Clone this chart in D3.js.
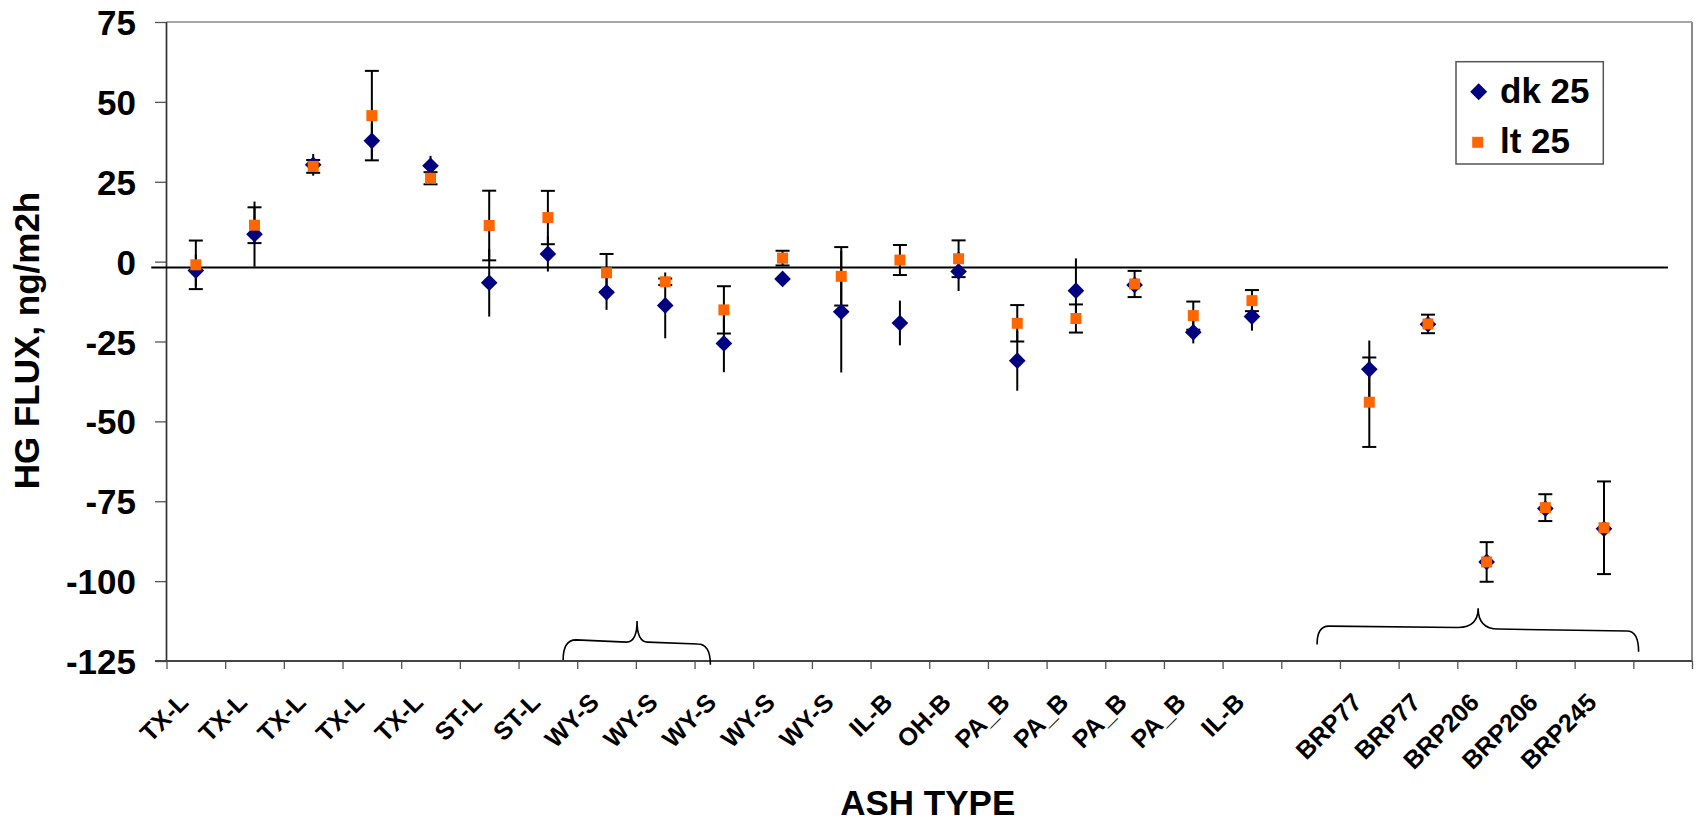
<!DOCTYPE html>
<html><head><meta charset="utf-8">
<script src="https://cdn.jsdelivr.net/npm/d3@7"></script>
<style>
html,body{margin:0;padding:0;background:#fff;}
svg{display:block;}
text{font-family:"Liberation Sans",Arial,Helvetica,sans-serif;font-weight:bold;fill:#000;}
</style></head><body>
<svg id="chart" width="1698" height="822"></svg>
<script>
// ---- data ----
const categories = ["TX-L","TX-L","TX-L","TX-L","TX-L","ST-L","ST-L","WY-S","WY-S","WY-S","WY-S","WY-S","IL-B","OH-B","PA_B","PA_B","PA_B","PA_B","IL-B","","BRP77","BRP77","BRP206","BRP206","BRP245",""];
const dkValues = [-2.8, 8.6, 30.3, 37.8, 30.0, -6.6, 2.4, -9.6, -13.7, -25.6, -5.4, -15.7, -19.2, -3.1, -31.0, -9.1, -7.3, -22.1, -17.2, null, -33.7, -19.6, -94.0, -77.3, -83.6, null];
const dkErrors = [5, 10.2, 3.4, 5.5, 3.1, 10.6, 5.5, 5.5, 10.3, 9.0, 1.5, 19.0, 7.0, 6.1, 9.4, 10.1, 2.0, 3.5, 4.4, null, 9.0, 2.0, 2.0, 2.0, 2.0, null];
const ltValues = [-1.0, 11.4, 29.8, 45.7, 26.1, 11.3, 13.8, -3.5, -6.3, -15.1, 1.1, -4.6, 0.5, 0.9, -19.3, -17.8, -7.0, -16.9, -12.2, null, -44.0, -19.5, -94.0, -77.0, -83.3, null];
const ltErrors = [7.6, 5.6, 2.0, 14.0, 1.9, 10.9, 8.35, 5.9, 1.0, 7.4, 2.3, 9.15, 4.7, 5.75, 5.7, 4.4, 4.1, 4.4, 3.3, null, 14.0, 2.9, 6.2, 4.2, 14.5, null];
const yTicks = [75, 50, 25, 0, -25, -50, -75, -100, -125];
const yTickLabels = ["75", "50", "25", "0", "-25", "-50", "-75", "-100", "-125"];
const seriesNames = ["dk 25", "lt 25"];
const yTitle = "HG FLUX, ng/m2h";
const xTitle = "ASH TYPE";
// horizontal reference line (value) drawn across the plot, in category-index units
const refLine = {value: -1.8, from: -0.26, to: 25.59};
// curly braces under the groups (category-index units / value units)
const braces = [
  {x0: 6.76, xm: 8.02, x1: 9.27, r: 0.22, r2: 0.18, e0: -124.7, f0: -118.4, fm0: -119.1, p: -112.5, fm1: -119.1, f1: -119.7, e1: -126.2},
  {x0: 19.61, xm: 22.355, x1: 25.09, r: 0.2, r2: 0.34, e0: -119.8, f0: -114.1, fm0: -114.5, p: -108.5, fm1: -115.0, f1: -115.6, e1: -122.1}
];

(function () {
// ---- layout ----
const pLeft = 166.5, pRight = 1692, pTop = 22, pBottom = 661;
const svg = d3.select("#chart");
const x = d3.scaleBand().domain(d3.range(categories.length)).range([pLeft, pRight]).padding(0);
const xi = d3.scaleLinear().domain([0, categories.length]).range([pLeft, pRight]);
const y = d3.scaleLinear().domain([-125, 75]).range([pBottom, pTop]);
const cx = i => x(i) + x.bandwidth() / 2;

// borders
svg.append("line").attr("x1", pLeft).attr("x2", pRight).attr("y1", pTop).attr("y2", pTop)
  .attr("stroke", "#8a8a8a").attr("stroke-width", 1.5);
svg.append("line").attr("x1", pRight).attr("x2", pRight).attr("y1", pTop).attr("y2", pBottom)
  .attr("stroke", "#8a8a8a").attr("stroke-width", 2);

// y axis
const yAxis = svg.append("g").attr("transform", `translate(${pLeft},0)`)
  .call(d3.axisLeft(y).tickValues(yTicks).tickSize(11.5).tickPadding(19)
    .tickFormat((d, i) => yTickLabels[i]));
yAxis.select(".domain").remove();
yAxis.selectAll(".tick line").attr("stroke", "#555").attr("stroke-width", 1.3);
yAxis.selectAll(".tick text").attr("font-size", 35).attr("dy", "0.36em")
  .style("font-family", "'Liberation Sans',Arial,sans-serif").style("font-weight", "bold");
svg.append("line").attr("x1", pLeft).attr("x2", pLeft).attr("y1", pTop).attr("y2", pBottom)
  .attr("stroke", "#333").attr("stroke-width", 1.7);

// x axis: boundary ticks
const xTickAxis = svg.append("g").attr("transform", `translate(0,${pBottom})`)
  .call(d3.axisBottom(xi).tickValues(d3.range(categories.length + 1)).tickSize(8).tickFormat(""));
xTickAxis.select(".domain").remove();
xTickAxis.selectAll(".tick line").attr("stroke", "#555").attr("stroke-width", 1.3);
// x axis: labels
const xLab = svg.append("g").attr("transform", `translate(0,${pBottom})`)
  .call(d3.axisBottom(x).tickSize(0).tickFormat(i => categories[i]));
xLab.select(".domain").remove();
xLab.selectAll(".tick text").attr("y", null).attr("dy", null)
  .attr("transform", "translate(-6,43) rotate(-45)")
  .style("text-anchor", "end").attr("font-size", 25)
  .style("font-family", "'Liberation Sans',Arial,sans-serif").style("font-weight", "bold");
svg.append("line").attr("x1", pLeft - 11.5).attr("x2", pRight).attr("y1", pBottom).attr("y2", pBottom)
  .attr("stroke", "#444").attr("stroke-width", 2);

// reference line
svg.append("line").attr("x1", xi(refLine.from)).attr("x2", xi(refLine.to))
  .attr("y1", y(refLine.value)).attr("y2", y(refLine.value))
  .attr("stroke", "#000").attr("stroke-width", 2);

// braces
function bracePath(b) {
  const p = d3.path();
  p.moveTo(xi(b.x0), y(b.e0));
  p.quadraticCurveTo(xi(b.x0), y(b.f0), xi(b.x0 + b.r), y(b.f0));
  p.lineTo(xi(b.xm - b.r2), y(b.fm0));
  p.quadraticCurveTo(xi(b.xm), y(b.fm0), xi(b.xm), y(b.p));
  p.quadraticCurveTo(xi(b.xm), y(b.fm1), xi(b.xm + b.r2), y(b.fm1));
  p.lineTo(xi(b.x1 - b.r), y(b.f1));
  p.quadraticCurveTo(xi(b.x1), y(b.f1), xi(b.x1), y(b.e1));
  return p.toString();
}
svg.append("g").selectAll("path").data(braces).join("path")
  .attr("d", bracePath).attr("fill", "none").attr("stroke", "#000").attr("stroke-width", 1.6);

// series records
const dkData = dkValues.map((v, i) => ({i, v, e: dkErrors[i]})).filter(d => d.v !== null);
const ltData = ltValues.map((v, i) => ({i, v, e: ltErrors[i]})).filter(d => d.v !== null);

// error bars (dk: no caps, lt: caps)
const bars = svg.append("g").attr("stroke", "#000").attr("stroke-width", 2);
bars.selectAll("line.dk").data(dkData.filter(d => d.e)).join("line").attr("class", "dk")
  .attr("x1", d => cx(d.i)).attr("x2", d => cx(d.i))
  .attr("y1", d => y(d.v + d.e)).attr("y2", d => y(d.v - d.e));
const ltBars = bars.selectAll("g.lt").data(ltData.filter(d => d.e)).join("g").attr("class", "lt");
ltBars.append("line").attr("x1", d => cx(d.i)).attr("x2", d => cx(d.i))
  .attr("y1", d => y(d.v + d.e)).attr("y2", d => y(d.v - d.e));
ltBars.append("line").attr("x1", d => cx(d.i) - 7).attr("x2", d => cx(d.i) + 7)
  .attr("y1", d => y(d.v + d.e)).attr("y2", d => y(d.v + d.e));
ltBars.append("line").attr("x1", d => cx(d.i) - 7).attr("x2", d => cx(d.i) + 7)
  .attr("y1", d => y(d.v - d.e)).attr("y2", d => y(d.v - d.e));

// markers
const diamond = d3.symbol(d3.symbolSquare, 139);
const square = d3.symbol(d3.symbolSquare, 121);
svg.append("g").selectAll("path").data(dkData).join("path")
  .attr("d", diamond).attr("fill", "#000080")
  .attr("transform", d => `translate(${cx(d.i)},${y(d.v)}) rotate(45)`);
svg.append("g").selectAll("path").data(ltData).join("path")
  .attr("d", square).attr("fill", "#ff6600")
  .attr("transform", d => `translate(${cx(d.i)},${y(d.v)})`);

// legend
const lg = svg.append("g");
lg.append("rect").attr("x", 1456).attr("y", 61.7).attr("width", 147.3).attr("height", 102.3)
  .attr("fill", "#fff").attr("stroke", "#555").attr("stroke-width", 1.5);
lg.append("path").attr("d", d3.symbol(d3.symbolSquare, 145)).attr("fill", "#000080")
  .attr("transform", "translate(1478.7,91.7) rotate(45)");
lg.append("path").attr("d", square).attr("fill", "#ff6600")
  .attr("transform", "translate(1477.7,142.3)");
lg.selectAll("text").data(seriesNames).join("text")
  .attr("x", 1500).attr("y", (d, i) => 103.3 + i * 50).attr("font-size", 35).text(d => d);

// titles
svg.append("text").attr("x", (pLeft + pRight) / 2 - 1.5).attr("y", 814.5)
  .attr("text-anchor", "middle").attr("font-size", 35).text(xTitle);
svg.append("text").attr("transform", "translate(38.5,340.5) rotate(-90)")
  .attr("text-anchor", "middle").attr("font-size", 35).text(yTitle);
})();
</script>
</body></html>
